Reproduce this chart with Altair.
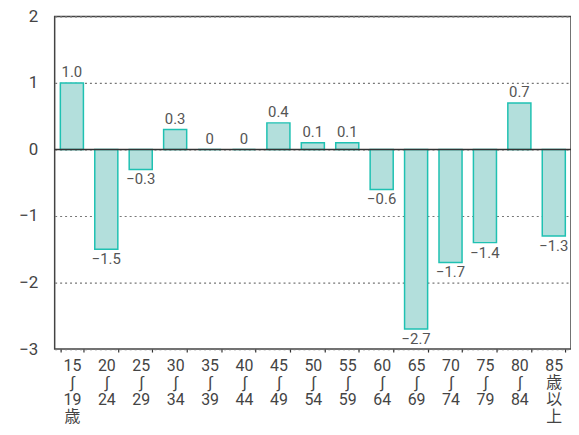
import altair as alt
import pandas as pd

categories = ["15\n∫\n19\n歳", "20\n∫\n24", "25\n∫\n29", "30\n∫\n34", "35\n∫\n39",
              "40\n∫\n44", "45\n∫\n49", "50\n∫\n54", "55\n∫\n59", "60\n∫\n64",
              "65\n∫\n69", "70\n∫\n74", "75\n∫\n79", "80\n∫\n84", "85\n歳\n以\n上"]
values = [1.0, -1.5, -0.3, 0.3, 0, 0, 0.4, 0.1, 0.1, -0.6, -2.7, -1.7, -1.4, 0.7, -1.3]


def fmt(v):
    if v == 0:
        return "0"
    s = f"{abs(v):.1f}"
    return ("−" + s) if v < 0 else s


df = pd.DataFrame({
    "cat": categories,
    "val": values,
    "lab": [fmt(v) for v in values],
})

FONT = "Roboto, Noto Sans CJK JP, DejaVu Sans, sans-serif"

x_enc = alt.X("cat:N", sort=categories,
              scale=alt.Scale(paddingInner=0.33, paddingOuter=0.165),
              axis=alt.Axis(title=None, labelAngle=0, domain=False,
                            tickBand="extent", tickSize=3, tickColor="#333",
                            tickWidth=1.2,
                            labelExpr="split(datum.label, '\\n')",
                            labelFontSize=16, labelLineHeight=17,
                            labelColor="#444", labelFont=FONT,
                            labelPadding=6, labelBaseline="top"))
y_scale = alt.Scale(domain=[-3, 2], nice=False)
y_enc = alt.Y("val:Q", scale=y_scale,
              axis=alt.Axis(title=None, values=[-3, -2, -1, 0, 1, 2],
                            labelExpr="datum.value < 0 ? '−' + abs(datum.value) : datum.value",
                            labelFontSize=17, labelColor="#444", labelFont=FONT,
                            ticks=False, domain=False, labelPadding=17,
                            grid=True, gridDash=[2, 3], gridColor="#777",
                            gridWidth=1.2))

base = alt.Chart(df)

bars = base.mark_bar(fill="#b3dfdc", stroke="#1fc1b2", strokeWidth=1.5).encode(
    x=x_enc, y=y_enc, y2=alt.datum(0)
)

zero = alt.Chart(pd.DataFrame({"z": [0]})).mark_rule(color="#333", strokeWidth=1.5).encode(
    y=alt.Y("z:Q", scale=y_scale)
)

pos_text = base.transform_filter("datum.val >= 0").mark_text(
    baseline="bottom", dy=-3, fontSize=15, color="#555", font=FONT
).encode(x=alt.X("cat:N", sort=categories), y=alt.Y("val:Q", scale=y_scale), text="lab:N")

neg_text = base.transform_filter("datum.val < 0").mark_text(
    baseline="top", dy=3, fontSize=15, color="#555", font=FONT
).encode(x=alt.X("cat:N", sort=categories), y=alt.Y("val:Q", scale=y_scale), text="lab:N")

chart = alt.layer(bars, zero, pos_text, neg_text).properties(
    width=520, height=335,
    autosize=alt.AutoSizeParams(type="none"),
    padding={"left": 47, "top": 7, "right": 0, "bottom": 77},
    background="white",
).configure_view(stroke="#444", strokeWidth=1.5)

chart.save("out.html", embed_options={"renderer": "svg", "actions": False})
